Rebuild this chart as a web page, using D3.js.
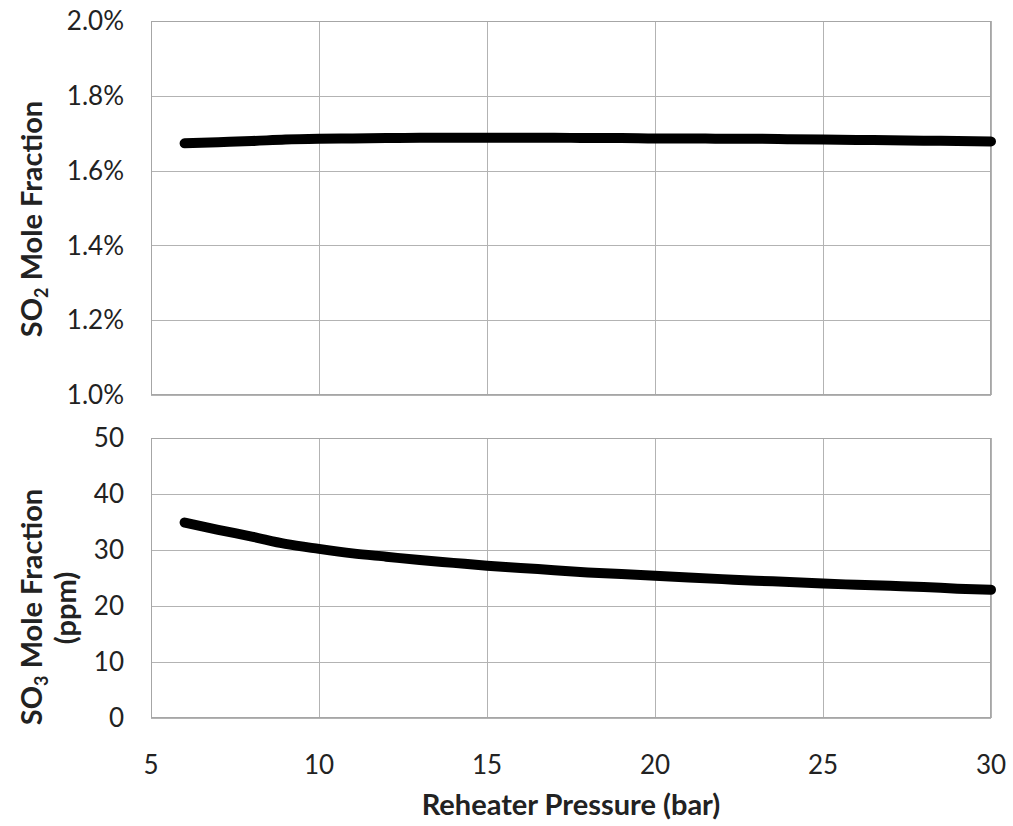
<!DOCTYPE html>
<html>
<head>
<meta charset="utf-8">
<script src="https://cdn.jsdelivr.net/npm/d3@7"></script>
<style>
    body { margin: 0; background: #fff; }
    svg text { font-family: Lato, 'Open Sans', sans-serif; fill: #222; }
    .grid line, .grid path { stroke: #b3b3b3; shape-rendering: crispEdges; }
</style>
</head>
<body>
<div class="chart-container"></div>
<script>
// pressure (bar)
const pressure = [6, 7, 8, 9, 10, 11, 12, 13, 14, 15, 16, 17, 18, 19, 20, 21, 22, 23, 24, 25, 26, 27, 28, 29, 30];
// SO2 mole fraction (%)
const so2_values = [1.673, 1.676, 1.679, 1.683, 1.685, 1.686, 1.687, 1.688, 1.688, 1.688, 1.688, 1.688, 1.687,
    1.687, 1.686, 1.686, 1.685, 1.685, 1.684, 1.683, 1.682, 1.681, 1.680, 1.679, 1.678];
// SO3 mole fraction (ppm)
const so3_values = [34.9, 33.6, 32.4, 31.1, 30.2, 29.4, 28.8, 28.2, 27.7, 27.2, 26.8, 26.4, 26.0,
    25.7, 25.4, 25.1, 24.8, 24.5, 24.3, 24.0, 23.8, 23.6, 23.4, 23.1, 22.9];
const x_ticks = [5, 10, 15, 20, 25, 30];
const so2_ticks = [1.0, 1.2, 1.4, 1.6, 1.8, 2.0];
const so3_ticks = [0, 10, 20, 30, 40, 50];

const svg_width = 1013;
const svg_height = 826;
const plot_left = 151;
const plot_right = 991;

const svg = d3.select('.chart-container')
    .append('svg')
    .attr('width', svg_width)
    .attr('height', svg_height);

const xScale = d3.scaleLinear([5, 30], [plot_left, plot_right]);

function setupPanel(values, ticks, top, bottom, tickFormat) {
    const yScale = d3.scaleLinear([ticks[0], ticks[ticks.length - 1]], [bottom, top]);
    const g = svg.append('g');

    // gridlines
    g.append('g')
        .attr('class', 'grid')
        .attr('transform', `translate(0,${bottom})`)
        .call(d3.axisBottom(xScale).tickValues(x_ticks).tickSize(-(bottom - top)).tickFormat(''))
        .call(a => a.select('.domain').remove());
    g.append('g')
        .attr('class', 'grid')
        .attr('transform', `translate(${plot_left},0)`)
        .call(d3.axisLeft(yScale).tickValues(ticks).tickSize(-(plot_right - plot_left)).tickFormat(''))
        .call(a => a.select('.domain').remove());
    g.append('rect')
        .attr('x', plot_left + 0.5)
        .attr('y', top + 0.5)
        .attr('width', plot_right - plot_left - 1)
        .attr('height', bottom - top - 1)
        .attr('fill', 'none')
        .attr('stroke', '#a6a6a6');

    // tick labels
    g.selectAll('.ylabel')
        .data(ticks)
        .enter()
        .append('text')
        .attr('class', 'ylabel')
        .attr('x', 124)
        .attr('y', d => yScale(d))
        .attr('dy', '0.35em')
        .attr('text-anchor', 'end')
        .style('font-size', '26px')
        .text(tickFormat);

    const line = d3.line()
        .x((d, i) => xScale(pressure[i]))
        .y(d => yScale(d))
        .curve(d3.curveMonotoneX);
    g.append('path')
        .datum(values)
        .attr('d', line)
        .attr('fill', 'none')
        .attr('stroke', '#000')
        .attr('stroke-width', 10)
        .attr('stroke-linecap', 'round')
        .attr('stroke-linejoin', 'round');
    return g;
}

setupPanel(so2_values, so2_ticks, 21, 395, d => d.toFixed(1) + '%');
setupPanel(so3_values, so3_ticks, 438, 718, d => d);

// x tick labels
svg.selectAll('.xlabel')
    .data(x_ticks)
    .enter()
    .append('text')
    .attr('class', 'xlabel')
    .attr('x', d => xScale(d))
    .attr('y', 765)
    .attr('dy', '0.35em')
    .attr('text-anchor', 'middle')
    .style('font-size', '26px')
    .text(d => d);

// axis titles
svg.append('text')
    .attr('x', (plot_left + plot_right) / 2)
    .attr('y', 815)
    .attr('text-anchor', 'middle')
    .style('font-size', '29px')
    .style('font-weight', 'bold')
    .text('Reheater Pressure (bar)');

function yTitle(sub, cx, cy) {
    const t = svg.append('text')
        .attr('transform', `translate(${cx},${cy}) rotate(-90)`)
        .attr('text-anchor', 'middle')
        .style('font-size', '29px')
        .style('font-weight', 'bold');
    t.append('tspan').text('SO');
    t.append('tspan').text(sub).style('font-size', '18px').attr('dy', 6);
    t.append('tspan').text(' Mole Fraction').attr('dy', -6);
    return t;
}
yTitle('2', 42, 219);
yTitle('3', 42, 607);
svg.append('text')
    .attr('transform', 'translate(76,608) rotate(-90)')
    .attr('text-anchor', 'middle')
    .style('font-size', '29px')
    .style('font-weight', 'bold')
    .text('(ppm)');
</script>
</body>
</html>
